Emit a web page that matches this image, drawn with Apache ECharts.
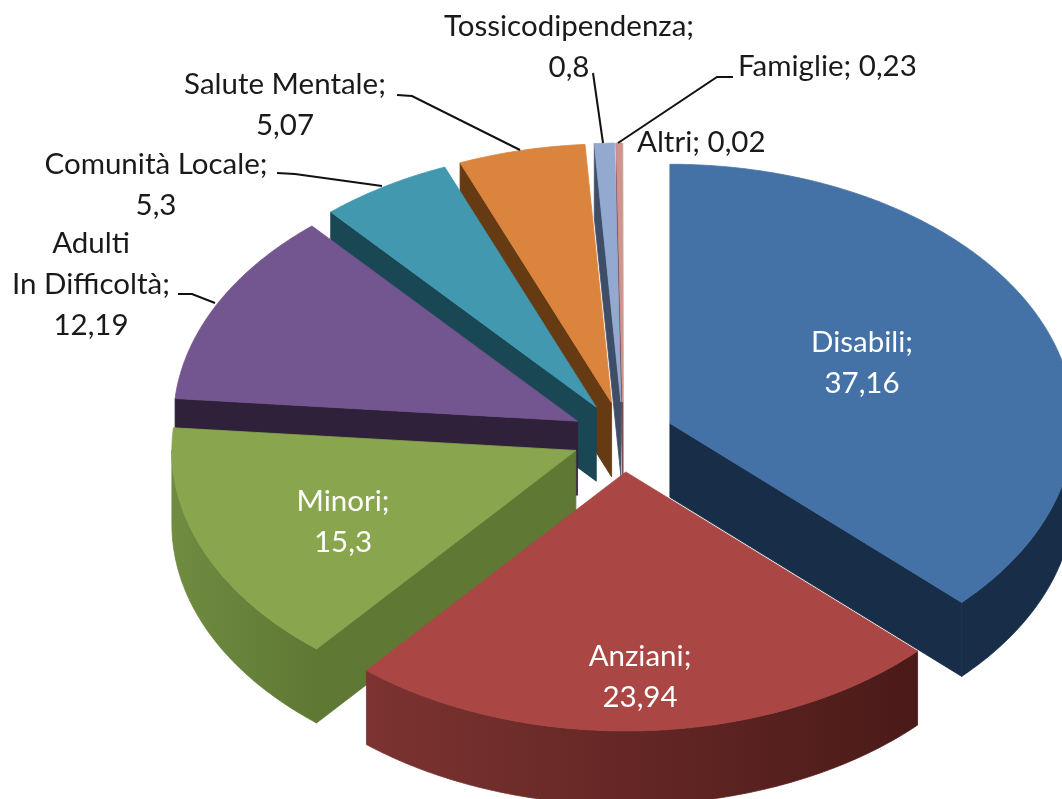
<!DOCTYPE html>
<html>
<head>
<meta charset="utf-8">
<style>html,body{margin:0;background:#fff}#chart{width:1062px;height:799px}</style>
<script src="https://cdn.jsdelivr.net/npm/echarts@6/dist/echarts.min.js"></script>
</head>
<body>
<div id="chart"></div>
<script>
const categories = ['Disabili', 'Anziani', 'Minori', 'Adulti\nIn Difficoltà', 'Comunità Locale', 'Salute Mentale', 'Tossicodipendenza', 'Famiglie', 'Altri'];
const shares = [37.16, 23.94, 15.3, 12.19, 5.3, 5.07, 0.8, 0.23, 0.02];

// 3d look of the excel pie
const topColors = ['#4572a6', '#aa4643', '#89a54e', '#73558f', '#4198af', '#db843d', '#93a9d0', '#d19392', '#b9cd96'];
const cutColors = ['#182e48', '#4a1a18', '#5f7834', '#2f2139', '#194754', '#663a12', '#3f4e68', '#7a4a4a', '#6a7a50'];
const wallFrom = ['#182e48', '#7c3331', '#6f8c40', '#2f2139', '#194754', '#663a12', '#3f4e68', '#7a4a4a', '#6a7a50'];
const wallTo = ['#182e48', '#4a1a18', '#5f7834', '#2f2139', '#194754', '#663a12', '#3f4e68', '#7a4a4a', '#6a7a50'];
const paintOrder = [8, 7, 6, 5, 4, 3, 0, 2, 1];

const cx = 623, cy = 437, rx = 404, ry = 259, depth = 74, explodeX = 51, explodeY = 35;

const total = shares.reduce((a, b) => a + b, 0);
const starts = [];
shares.reduce((acc, v, i) => { starts[i] = acc / total * 360; return acc + v; }, 0);
const ends = shares.map((v, i) => starts[i] + v / total * 360);
const rad = d => d * Math.PI / 180;

function apex(i) {
  const mid = rad((starts[i] + ends[i]) / 2);
  return [cx + explodeX * Math.sin(mid), cy - explodeY * Math.cos(mid)];
}
function rim(a, deg, dz) {
  return [a[0] + rx * Math.sin(rad(deg)), a[1] - ry * Math.cos(rad(deg)) + (dz || 0)];
}
function arc(a, from, to, dz) {
  const pts = [];
  const n = Math.max(2, Math.ceil((to - from) * 2));
  for (let k = 0; k <= n; k++) pts.push(rim(a, from + (to - from) * k / n, dz));
  return pts;
}
// thin stroke in the fill colour hides the seams between faces
const poly = (points, fill) => ({ type: 'polygon', shape: { points }, style: { fill, stroke: fill, lineWidth: 0.8 }, silent: true });

function renderSlice(params, api) {
  const i = api.value(0);
  const a = apex(i), s = starts[i], e = ends[i];
  const children = [];
  // cut faces
  if (Math.sin(rad(s)) < -0.001) {
    const p = rim(a, s);
    children.push(poly([a, p, [p[0], p[1] + depth], [a[0], a[1] + depth]], cutColors[i]));
  }
  if (Math.sin(rad(e)) > 0.001) {
    const p = rim(a, e);
    children.push(poly([a, p, [p[0], p[1] + depth], [a[0], a[1] + depth]], cutColors[i]));
  }
  // outer wall, front half only
  const wa = Math.max(s, 90), wb = Math.min(e, 270);
  if (wb > wa) {
    const top = arc(a, wa, wb, 0);
    const bottom = arc(a, wa, wb, depth).reverse();
    const xs = top.map(p => p[0]);
    const x0 = Math.min(...xs), x1 = Math.max(...xs);
    children.push(poly(top.concat(bottom), new echarts.graphic.LinearGradient(x0, 0, x1, 0, [
      { offset: 0, color: wallFrom[i] },
      { offset: 1, color: wallTo[i] }
    ], true)));
  }
  // top face
  children.push(poly([a].concat(arc(a, s, e, 0)), topColors[i]));
  return { type: 'group', children };
}

// label placement, same order as categories
const labelLayout = [
  { x: 862, y: 343, align: 'center', color: '#fff' },
  { x: 640, y: 657, align: 'center', color: '#fff' },
  { x: 343, y: 502, align: 'center', color: '#fff' },
  { x: 91, y: 244, align: 'center' },
  { x: 156, y: 165, align: 'center' },
  { x: 285, y: 85, align: 'center' },
  { x: 569, y: 27, align: 'center' },
  { x: 738, y: 67, align: 'left', inline: true },
  { x: 637, y: 143, align: 'left', inline: true }
];
const leaders = [
  null, null, null,
  [[178, 294], [192, 294], [215, 303]],
  [[277, 173], [295, 174], [382, 186]],
  [[397, 95], [412, 96], [520, 150]],
  [[593, 73], [603, 143]],
  [[733, 77], [717, 77], [618, 143]],
  null
];

function renderLabel(params, api) {
  const i = api.value(0);
  const l = labelLayout[i];
  const num = String(shares[i]).replace('.', ',');
  const text = categories[i] + ';' + (l.inline ? ' ' : '\n') + num;
  const children = [{
    type: 'text',
    x: l.x, y: l.y - 21,
    style: { text, fill: l.color || '#1a1a1a', font: '29.5px Lato', align: l.align, verticalAlign: 'top', lineHeight: 41 },
    silent: true
  }];
  if (leaders[i]) {
    children.push({ type: 'polyline', shape: { points: leaders[i] }, style: { stroke: '#111', lineWidth: 2, fill: null }, silent: true });
  }
  return { type: 'group', children };
}

const chart = echarts.init(document.getElementById('chart'));
chart.setOption({
  animation: false,
  backgroundColor: '#fff',
  series: [
    { type: 'custom', coordinateSystem: 'none', renderItem: renderSlice, data: paintOrder.map(i => [i, shares[i]]), z: 2 },
    { type: 'custom', coordinateSystem: 'none', renderItem: renderLabel, data: categories.map((c, i) => [i, shares[i]]), z: 3 }
  ]
});
</script>
</body>
</html>
